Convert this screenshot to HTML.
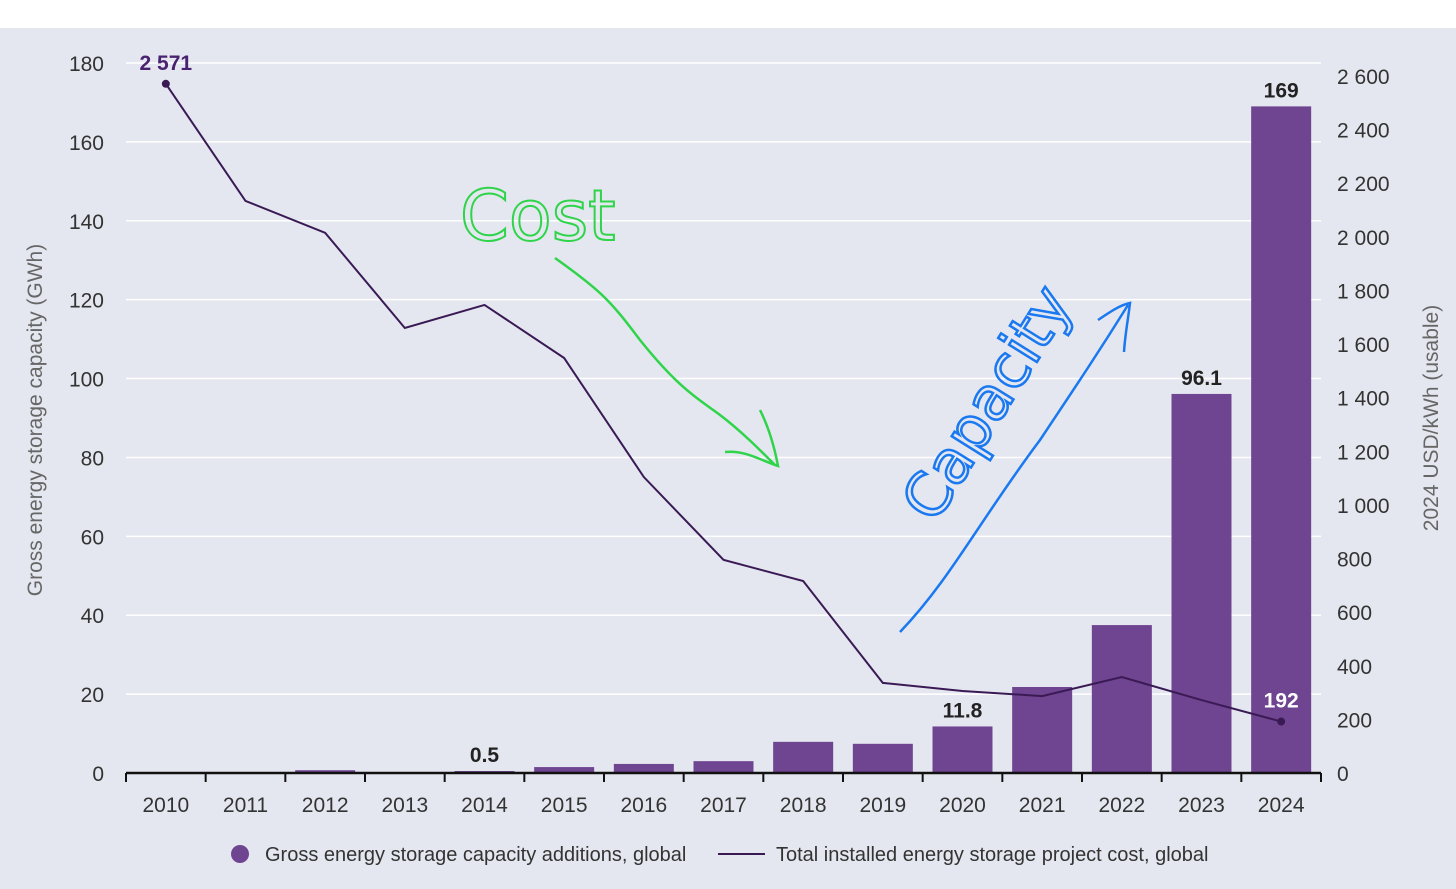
<!DOCTYPE html>
<html><head><meta charset="utf-8"><style>
html,body{margin:0;padding:0;background:#fff}
svg{display:block;font-family:"Liberation Sans",sans-serif}
</style></head><body>
<svg id="chart" width="1456" height="889" viewBox="0 0 1456 889" xmlns="http://www.w3.org/2000/svg">
<rect x="0" y="28" width="1456" height="861" fill="#e4e7ef"/>
<g id="grid"></g><g id="bars"></g><g id="line"></g><g id="axes"></g>
<text transform="translate(42,420) rotate(-90)" text-anchor="middle" font-size="21" fill="#666">Gross energy storage capacity (GWh)</text>
<text transform="translate(1438,418) rotate(-90)" text-anchor="middle" font-size="21" fill="#666">2024 USD/kWh (usable)</text>
<g>
<circle cx="240" cy="854" r="9" fill="#6f4490"/>
<text x="265" y="861" font-size="20" fill="#333">Gross energy storage capacity additions, global</text>
<line x1="718" y1="854" x2="765" y2="854" stroke="#3a1a55" stroke-width="2"/>
<text x="776" y="861" font-size="20" fill="#333">Total installed energy storage project cost, global</text>
</g>
<g>
<text x="460" y="240" font-size="70" fill="none" stroke="#2fd44a" stroke-width="2" font-family="DejaVu Sans,sans-serif">Cost</text>
<path d="M555 258 C600 290,610 300,640 340 C680 390,700 400,720 415 C740 430,760 450,775 465 M725 452 C745 450,760 460,778 466 C775 450,770 430,760 410" fill="none" stroke="#2fd44a" stroke-width="2.5"/>
<text transform="translate(935,525) rotate(-58)" font-size="60" fill="none" stroke="#1a78f0" stroke-width="2.5" font-family="DejaVu Sans,sans-serif">Capacity</text>
<path d="M900 632 C950 580,980 520,1040 440 C1080 380,1100 350,1128 305 M1098 320 C1110 312,1120 305,1130 303 C1128 320,1125 335,1124 352" fill="none" stroke="#1a78f0" stroke-width="2.5"/>
</g>
</svg>
<script>
const years=["2010","2011","2012","2013","2014","2015","2016","2017","2018","2019","2020","2021","2022","2023","2024"];
const capacity=[0,0,0.7,0.2,0.5,1.5,2.3,3.0,7.9,7.4,11.8,21.8,37.5,96.1,169];
const cost=[2571,2134,2015,1660,1746,1548,1104,795,716,336,306,287,358,272,192];
const leftTicks=[0,20,40,60,80,100,120,140,160,180];
const rightTicks=[0,200,400,600,800,1000,1200,1400,1600,1800,2000,2200,2400,2600];
const barLabels={"2014":"0.5","2020":"11.8","2023":"96.1","2024":"169"};
const costLabels={"2010":"2 571","2024":"192"};
const NS="http://www.w3.org/2000/svg";
const x0=126,x1=1321,base=773;
const step=(x1-x0)/years.length;
const xc=i=>x0+step*(i+0.5);
const yL=v=>base-v*(773-63)/180;
const yR=v=>base-v*(773-76)/2600;
function mk(t,a,p){const e=document.createElementNS(NS,t);for(const k in a)e.setAttribute(k,a[k]);p.appendChild(e);return e;}
const grid=document.getElementById('grid'),bars=document.getElementById('bars'),line=document.getElementById('line'),axes=document.getElementById('axes');
leftTicks.forEach(v=>{
 if(v>0){const g=mk('line',{x1:x0,x2:x1,y1:yL(v),y2:yL(v),stroke:'#fff','stroke-width':1.5},grid);
 
 }
 const t=mk('text',{x:104,y:yL(v)+8,'text-anchor':'end','font-size':21,fill:'#333'},axes);t.textContent=v;
 
 
});
rightTicks.forEach(v=>{
 const t=mk('text',{x:1337,y:yR(v)+8,'font-size':21,fill:'#333'},axes);t.textContent=v>=1000?String(v).replace(/(\d)(\d{3})$/,'$1 $2'):v;
 
 
});
const xa=mk('line',{x1:x0,x2:x1,y1:base,y2:base,stroke:'#111','stroke-width':2.5},axes);


for(let i=0;i<=years.length;i++){const tk=mk('line',{x1:x0+step*i,x2:x0+step*i,y1:base,y2:base+9,stroke:'#111','stroke-width':2},axes);
 
 }
years.forEach((y,i)=>{
 const t=mk('text',{x:xc(i),y:812,'text-anchor':'middle','font-size':21,fill:'#333'},axes);t.textContent=y;
 
 
 const v=capacity[i];
 if(v>0){const r=mk('rect',{x:xc(i)-30,width:60,y:yL(v),height:base-yL(v),fill:'#6f4490'},bars);
 
 }
 if(barLabels[y]){const l=mk('text',{x:xc(i),y:yL(v)-9,'text-anchor':'middle','font-size':21,'font-weight':'bold',fill:'#222'},bars);l.textContent=barLabels[y];
 
 }
});
const pts=cost.map((c,i)=>xc(i)+','+yR(c)).join(' ');
const pl=mk('polyline',{points:pts,fill:'none',stroke:'#3a1a55','stroke-width':2},line);


[0,years.length-1].forEach(i=>{
 const c=mk('circle',{cx:xc(i),cy:yR(cost[i]),r:4,fill:'#3a1a55'},line);
 
 
 const l=mk('text',{x:xc(i),y:yR(cost[i])-14,'text-anchor':'middle','font-size':21,'font-weight':'bold',fill:i===0?'#4a2370':'#fff'},line);l.textContent=costLabels[years[i]];
 
 
});
</script>
</body></html>
